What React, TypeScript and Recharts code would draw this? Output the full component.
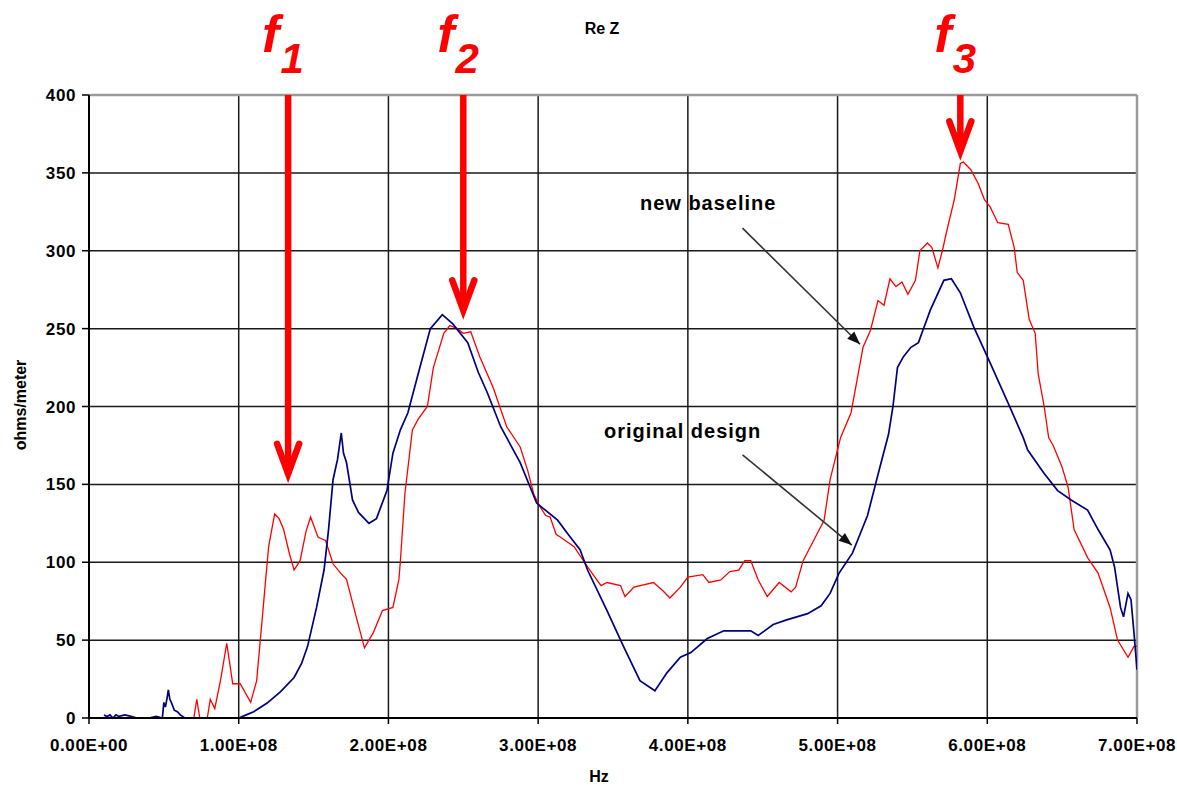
import React from 'react';
import {
  LineChart,
  Line,
  XAxis,
  YAxis,
  CartesianGrid,
  ReferenceLine,
  ReferenceDot,
} from 'recharts';

// Original design: frequency (MHz) and Re Z (ohms/meter)
const originalMHz = [
  10, 12, 14, 16, 18, 20, 24, 28, 32, 40,
  45, 49, 50, 51, 52, 53, 54, 55, 57, 59,
  61, 64, 66, 100, 105, 110, 119, 128, 137, 142,
  146, 152, 157, 160, 163, 166, 168.5, 170, 172, 176,
  180, 187, 192, 199, 203, 208, 213, 221, 228, 236,
  243, 253, 260, 266, 275, 288, 299, 313, 320, 328,
  333, 346, 357, 368, 378, 386, 395, 402, 413, 424,
  442, 447, 457, 466, 480, 489, 495, 501, 510, 520,
  528, 534, 537, 540, 544, 549, 554, 557, 562, 571,
  576, 582, 591, 601, 614, 624, 627, 638, 647, 656,
  667, 674, 682, 685, 689, 691, 694, 696, 698, 700,
];
const originalOhms: (number | null)[] = [
  2, 1, 2, 0, 2, 1, 2, 1, 0, 0,
  1, 0, 10, 7, 12, 18, 12, 10, 5, 4,
  2, 0, null, 0, 2, 4, 9.6, 17, 26, 35,
  46, 71, 95, 121, 153, 166, 183, 170, 164, 140,
  132, 125, 128, 146, 170, 185, 196, 225, 250, 259,
  253, 241, 222, 209, 187, 164, 138, 127, 118, 108,
  95, 69, 46, 24, 17.5, 29, 39, 42, 51, 56,
  56, 53, 60, 63, 67, 72, 80, 93, 106, 130,
  160, 182, 200, 225, 232, 238, 241, 249, 262, 281,
  282, 273, 251, 230, 202, 180, 172, 157, 146, 140,
  133.5, 121, 108, 97, 71, 65, 80, 76, 54.5, 31,
];

// New baseline: frequency (MHz) and Re Z (ohms/meter)
const baselineMHz = [
  70, 72, 74, 79, 81, 84, 88, 92, 96, 101,
  108, 112, 116, 118, 120, 124, 127, 130, 134, 137,
  141, 145, 148, 153, 158, 163, 168, 172, 179, 184,
  190, 196, 203, 207, 208, 211, 216, 220, 226, 230,
  237, 241, 246, 250, 255, 261, 270, 279, 288, 293,
  297, 301, 305, 308, 312, 315, 324, 333, 342, 346,
  355, 358, 364, 377, 383, 388, 395, 400, 410, 414,
  422, 428, 434, 438, 442, 447, 453, 461, 469, 472,
  477, 484, 491, 495, 502, 509, 513, 517, 522, 527,
  531, 535, 539, 543, 547, 552, 555, 560, 563, 567,
  570, 573, 578, 582, 584, 589, 594, 598, 602, 607,
  614, 618, 620, 624, 628, 632, 634, 638, 641, 644,
  650, 654, 658, 667, 674, 682, 687, 694, 698, 700,
];
const baselineOhms = [
  0, 12, 0, 0, 12, 6, 25, 48, 22, 22,
  10, 24, 67, 89, 110, 131, 128, 121, 105, 95,
  101, 120, 129, 116, 114, 99, 93, 89, 63, 45,
  55, 69, 71, 89, 101, 144, 185, 192, 200, 225,
  247, 252, 250, 247, 248, 232, 212, 187, 174, 159,
  144, 136, 130, 129, 118, 116, 110, 97, 85, 87,
  85, 78, 84, 87, 82, 77, 84, 90.5, 92, 87,
  88.6, 94, 95, 101, 101, 88.6, 78, 87, 81, 84,
  101, 114, 127, 153, 180, 196, 217, 238, 249, 268,
  265, 282, 277, 280, 272, 281, 300, 305, 302, 289,
  300, 313, 333, 356, 357, 352, 343, 333, 328, 318,
  317, 302, 286, 281, 256, 247, 221, 200, 180, 175,
  161, 148, 121, 103, 93, 71, 50, 39, 46, 46,
];

// Axis ticks
const xTicksHz = [0, 1e8, 2e8, 3e8, 4e8, 5e8, 6e8, 7e8];
const yTicks = [0, 50, 100, 150, 200, 250, 300, 350, 400];

// Resonance markers f1, f2, f3: frequency (MHz) and arrow tip (ohms/meter)
const markerIndex = ['1', '2', '3'];
const markerMHz = [133, 250, 582];
const markerTipOhms = [151, 256, 358];

// Callout notes: text anchor and arrow from/to (MHz, ohms/meter)
const noteText = ['new baseline', 'original design'];
const noteTextMHz = [368, 344];
const noteTextOhms = [326, 180];
const noteFromMHz = [436.5, 436.5];
const noteFromOhms = [314.5, 169];
const noteToMHz = [515, 509.5];
const noteToOhms = [240, 111];
const noteHeadAngle = [44.5, 39.5];

const toRows = (mhz: number[], ohms: (number | null)[]) =>
  mhz.map((f, i) => ({ hz: f * 1e6, ohms: ohms[i] }));

const originalData = toRows(originalMHz, originalOhms);
const baselineData = toRows(baselineMHz, baselineOhms);

const sci = (v: number) => {
  if (v === 0) return '0.00E+00';
  const e = Math.floor(Math.log10(Math.abs(v)));
  const m = v / Math.pow(10, e);
  return `${m.toFixed(2)}E+${String(e).padStart(2, '0')}`;
};

const FONT = 'Arial, "Liberation Sans", Helvetica, sans-serif';
const RED = '#ff0000';

const tickStyle = {
  fill: '#000',
  fontSize: 17,
  fontWeight: 700,
  fontFamily: FONT,
  letterSpacing: 0.6,
};

export default function App() {
  return (
    <div
      style={{
        position: 'absolute',
        left: 0,
        top: 0,
        width: 1177,
        height: 786,
        background: '#fff',
      }}
    >
      <LineChart
        width={1177}
        height={786}
        margin={{ top: 95, right: 40, bottom: 0, left: 0 }}
      >
        <CartesianGrid stroke="#1a1a1a" strokeWidth={1.5} />
        <XAxis
          type="number"
          dataKey="hz"
          domain={[0, 7e8]}
          ticks={xTicksHz}
          tickFormatter={sci}
          height={68}
          tickSize={6}
          tickMargin={15}
          tick={tickStyle}
          axisLine={{ stroke: '#000', strokeWidth: 2 }}
          tickLine={{ stroke: '#000', strokeWidth: 1.5 }}
          allowDataOverflow
        />
        <YAxis
          type="number"
          domain={[0, 400]}
          ticks={yTicks}
          width={89}
          tickSize={7}
          tickMargin={6}
          tick={tickStyle}
          axisLine={{ stroke: '#000', strokeWidth: 2 }}
          tickLine={{ stroke: '#000', strokeWidth: 1.5 }}
          allowDataOverflow
        />
        <ReferenceLine y={400} stroke="#9a9a9a" strokeWidth={2.5} />
        <ReferenceLine x={7e8} stroke="#9a9a9a" strokeWidth={2.5} />

        <Line
          data={baselineData}
          dataKey="ohms"
          type="linear"
          stroke={RED}
          strokeWidth={1.3}
          dot={false}
          activeDot={false}
          isAnimationActive={false}
        />
        <Line
          data={originalData}
          dataKey="ohms"
          type="linear"
          stroke="#000080"
          strokeWidth={1.7}
          dot={false}
          activeDot={false}
          connectNulls={false}
          isAnimationActive={false}
        />

        {markerMHz.map((f, i) => (
          <ReferenceLine
            key={`shaft-${i}`}
            segment={[
              { x: f * 1e6, y: 400 },
              { x: f * 1e6, y: markerTipOhms[i] + 6 },
            ]}
            stroke={RED}
            strokeWidth={6.5}
          />
        ))}
        {markerMHz.map((f, i) => (
          <ReferenceDot
            key={`head-${i}`}
            x={f * 1e6}
            y={markerTipOhms[i]}
            shape={(p: any) => (
              <path
                d={`M${p.cx - 11},${p.cy - 39} L${p.cx},${p.cy - 9} L${p.cx + 11},${p.cy - 39}`}
                fill="none"
                stroke={RED}
                strokeWidth={6.5}
                strokeLinecap="round"
                strokeLinejoin="miter"
              />
            )}
          />
        ))}
        {markerMHz.map((f, i) => (
          <ReferenceDot
            key={`flabel-${i}`}
            x={f * 1e6}
            y={400}
            shape={(p: any) => (
              <text
                x={p.cx - 26}
                y={p.cy - 43}
                fill={RED}
                fontFamily={FONT}
                fontStyle="italic"
                fontWeight={700}
                fontSize={52}
              >
                f
                <tspan fontSize={42} dx={1} dy={21}>
                  {markerIndex[i]}
                </tspan>
              </text>
            )}
          />
        ))}

        {noteText.map((t, i) => (
          <ReferenceLine
            key={`note-line-${i}`}
            segment={[
              { x: noteFromMHz[i] * 1e6, y: noteFromOhms[i] },
              { x: noteToMHz[i] * 1e6, y: noteToOhms[i] },
            ]}
            stroke="#333"
            strokeWidth={1.6}
          />
        ))}
        {noteText.map((t, i) => (
          <ReferenceDot
            key={`note-head-${i}`}
            x={noteToMHz[i] * 1e6}
            y={noteToOhms[i]}
            shape={(p: any) => (
              <polygon
                points="0,0 -13,-5 -13,5"
                fill="#111"
                transform={`translate(${p.cx},${p.cy}) rotate(${noteHeadAngle[i]})`}
              />
            )}
          />
        ))}
        {noteText.map((t, i) => (
          <ReferenceDot
            key={`note-text-${i}`}
            x={noteTextMHz[i] * 1e6}
            y={noteTextOhms[i]}
            shape={(p: any) => (
              <text
                x={p.cx}
                y={p.cy}
                fill="#000"
                fontFamily={FONT}
                fontWeight={700}
                fontSize={20}
                letterSpacing={1}
              >
                {t}
              </text>
            )}
          />
        ))}

        <text
          x={602}
          y={34}
          textAnchor="middle"
          fill="#000"
          fontFamily={FONT}
          fontWeight={700}
          fontSize={16}
        >
          Re Z
        </text>
        <text
          x={599}
          y={782}
          textAnchor="middle"
          fill="#000"
          fontFamily={FONT}
          fontWeight={700}
          fontSize={16}
        >
          Hz
        </text>
        <text
          transform="translate(26,405) rotate(-90)"
          textAnchor="middle"
          fill="#000"
          fontFamily={FONT}
          fontWeight={700}
          fontSize={16}
        >
          ohms/meter
        </text>
      </LineChart>
    </div>
  );
}
